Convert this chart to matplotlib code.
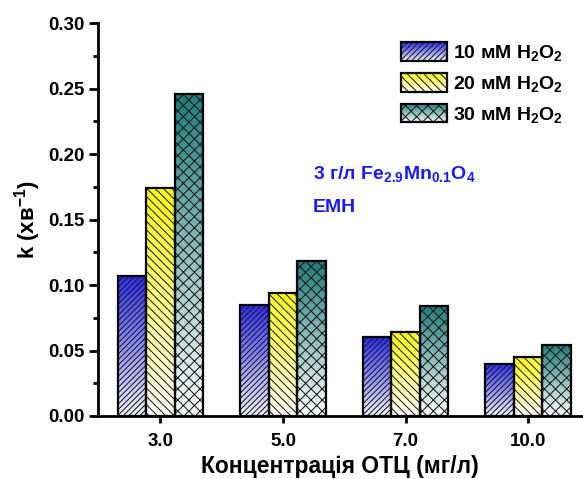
import numpy as np
import matplotlib
matplotlib.use("Agg")
import matplotlib.pyplot as plt
from matplotlib.patches import Rectangle
from matplotlib.legend_handler import HandlerBase
from matplotlib.colors import to_rgb

# Data
categories = ["3.0", "5.0", "7.0", "10.0"]
series_labels = ["10 мМ H$_2$O$_2$", "20 мМ H$_2$O$_2$", "30 мМ H$_2$O$_2$"]
k_10mM = [0.107, 0.085, 0.060, 0.040]
k_20mM = [0.174, 0.094, 0.064, 0.045]
k_30mM = [0.246, 0.118, 0.084, 0.054]

plt.rcParams["font.family"] = ["Liberation Sans", "DejaVu Sans"]
plt.rcParams["font.weight"] = "bold"
plt.rcParams["mathtext.fontset"] = "custom"
plt.rcParams["mathtext.rm"] = "Liberation Sans:bold"
plt.rcParams["mathtext.it"] = "Liberation Sans:bold"
plt.rcParams["mathtext.bf"] = "Liberation Sans:bold"
plt.rcParams["mathtext.default"] = "rm"
plt.rcParams["hatch.linewidth"] = 0.75

series = [k_10mM, k_20mM, k_30mM]
top_colors = ["#2a2aff", "#ffff10", "#1f7c78"]
bottom_colors = ["#f4f4ff", "#ffffff", "#ffffff"]
hatches = ["//////", "\\\\\\\\", "xxx"]
hatch_color = "#1a1a1a"

fig = plt.figure(figsize=(5.83, 4.79), dpi=100)
ax = fig.add_axes([98 / 583, 1 - 416 / 479, 484 / 583, 393 / 479])
ax.set_xlim(-0.51, 3.44)
ax.set_ylim(0, 0.30)
ax.set_autoscale_on(False)


def gradient_image(top, bottom, n=256):
    t = np.linspace(0, 1, n)[:, None]
    c0 = np.array(to_rgb(bottom))
    c1 = np.array(to_rgb(top))
    return (c0 + (c1 - c0) * t)[:, None, :]


x = np.arange(len(categories))
width = 0.233
offsets = [-width, 0, width]

for vals, off, ctop, cbot, hatch in zip(series, offsets, top_colors, bottom_colors, hatches):
    img = gradient_image(ctop, cbot)
    for xi, v in zip(x, vals):
        x0 = xi + off - width / 2
        ax.imshow(img, extent=[x0, x0 + width, 0, v], origin="lower",
                  aspect="auto", interpolation="bilinear", zorder=1)
    ax.bar(x + off, vals, width, facecolor="none", edgecolor=hatch_color,
           hatch=hatch, linewidth=0, zorder=2)
    ax.bar(x + off, vals, width, facecolor="none", edgecolor="black",
           linewidth=1.6, zorder=3)


class GradientHandler(HandlerBase):
    def __init__(self, top, bottom, hatch):
        super().__init__()
        self.top, self.bottom, self.hatch = top, bottom, hatch

    def create_artists(self, legend, orig_handle, xdescent, ydescent,
                       width, height, fontsize, trans):
        arts = []
        n = 24
        c0 = np.array(to_rgb(self.bottom))
        c1 = np.array(to_rgb(self.top))
        for i in range(n):
            t = (i + 0.5) / n
            col = c0 + (c1 - c0) * t
            r = Rectangle((-xdescent, -ydescent + height * i / n), width,
                          height / n * 1.05, facecolor=col, edgecolor="none",
                          transform=trans)
            arts.append(r)
        h = Rectangle((-xdescent, -ydescent), width, height, facecolor="none",
                      edgecolor=hatch_color, hatch=self.hatch, linewidth=0,
                      transform=trans)
        o = Rectangle((-xdescent, -ydescent), width, height, facecolor="none",
                      edgecolor="black", linewidth=1.6, transform=trans)
        arts += [h, o]
        return arts


handles = [Rectangle((0, 0), 1, 1) for _ in series]
handler_map = {h: GradientHandler(t, b, ht)
               for h, t, b, ht in zip(handles, top_colors, bottom_colors, hatches)}
leg = fig.legend(handles, series_labels, handler_map=handler_map,
                 loc="upper left", bbox_to_anchor=(401 / 583, 1 - 42 / 479),
                 bbox_transform=fig.transFigure, frameon=False,
                 fontsize=14, handlelength=2.35, handleheight=1.12,
                 handletextpad=0.3, labelspacing=0.5, borderpad=0,
                 borderaxespad=0)

fig.text(313 / 583, 1 - 174 / 479, "3 г/л Fe$_{2.9}$Mn$_{0.1}$O$_4$",
         color="#1a1aff", fontsize=14, fontweight="bold", va="center", ha="left")
fig.text(313 / 583, 1 - 207 / 479, "ЕМН",
         color="#1a1aff", fontsize=14, fontweight="bold", va="center", ha="left")

ax.set_xticks(x)
ax.set_xticklabels(categories)
ax.set_yticks(np.arange(0, 0.301, 0.05))
ax.set_yticklabels([f"{v:.2f}" for v in np.arange(0, 0.301, 0.05)])
ax.set_yticks(np.arange(0.025, 0.3, 0.05), minor=True)

for side in ["top", "right"]:
    ax.spines[side].set_visible(False)
for side in ["left", "bottom"]:
    ax.spines[side].set_linewidth(2)

ax.tick_params(axis="both", which="major", direction="out", width=2,
               labelsize=13.5, pad=3)
ax.tick_params(axis="y", which="major", length=6.5)
ax.tick_params(axis="x", which="major", length=5, pad=7)
ax.tick_params(axis="y", which="minor", direction="out", length=3.5, width=2)

ax.set_xlabel("Концентрація ОТЦ (мг/л)", fontsize=16.5, fontweight="bold", labelpad=4)
ax.set_ylabel("k (хв$^{-1}$)", fontsize=16, fontweight="bold", labelpad=4)

fig.savefig("out.png", dpi=100)
